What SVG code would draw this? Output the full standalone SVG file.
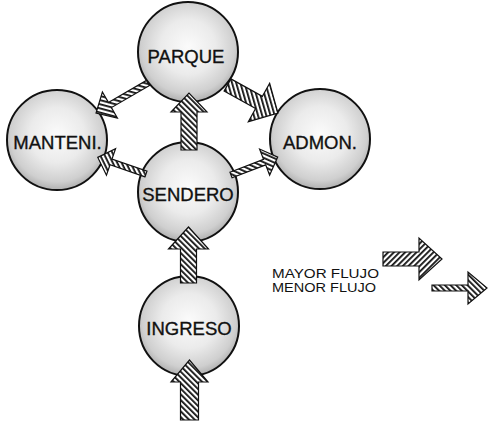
<svg xmlns="http://www.w3.org/2000/svg" width="497" height="425" viewBox="0 0 497 425">
  <style>
    .node circle { fill: url(#sphere); stroke: #111; stroke-width: 2; }
    .node text { font-family: "Liberation Sans", Arial, sans-serif; font-size: 18.5px; fill: #111; stroke: #111; stroke-width: 0.35; text-anchor: middle; }
    .arrow { stroke: #111; stroke-width: 1.2; stroke-linejoin: miter; }
    .hb { fill: url(#hatchB); }
    .hf { fill: url(#hatchF); }
    .legend { font-family: "Liberation Sans", Arial, sans-serif; font-size: 13px; fill: #111; }
  </style>
  <defs>
    <radialGradient id="sphere" cx="50%" cy="45%" r="55%">
      <stop offset="0" stop-color="#fbfbfb"/>
      <stop offset="0.5" stop-color="#ebebeb"/>
      <stop offset="0.85" stop-color="#cfcfcf"/>
      <stop offset="1" stop-color="#b0b0b0"/>
    </radialGradient>
    <pattern id="hatchB" patternUnits="userSpaceOnUse" width="4" height="4" patternTransform="rotate(-45)">
      <rect width="4" height="4" fill="#fff"/>
      <rect x="0" y="0" width="1.8" height="4" fill="#111"/>
    </pattern>
    <pattern id="hatchF" patternUnits="userSpaceOnUse" width="4" height="4" patternTransform="rotate(45)">
      <rect width="4" height="4" fill="#fff"/>
      <rect x="0" y="0" width="1.8" height="4" fill="#111"/>
    </pattern>
  </defs>
  <rect width="497" height="425" fill="#fff"/>

  <g id="parque" class="node">
    <circle cx="188" cy="52" r="50"/>
    <text x="186" y="63">PARQUE</text>
  </g>
  <g id="manteni" class="node">
    <circle cx="57" cy="140" r="50"/>
    <text x="57.5" y="149">MANTENI.</text>
  </g>
  <g id="admon" class="node">
    <circle cx="320" cy="139" r="50"/>
    <text x="320" y="149">ADMON.</text>
  </g>
  <g id="sendero" class="node">
    <circle cx="188" cy="192" r="50"/>
    <text x="188" y="200.5">SENDERO</text>
  </g>
  <g id="ingreso" class="node">
    <circle cx="189" cy="326" r="50"/>
    <text x="189" y="335">INGRESO</text>
  </g>

  <g id="connectors">
    <!-- SENDERO -> PARQUE -->
    <polygon class="arrow hb" points="181,150 181,112 171,112 189,93 207,112 197,112 197,150"/>
    <!-- INGRESO -> SENDERO -->
    <polygon class="arrow hb" points="180.5,283 180.5,249 168.5,249 188.5,227 208.5,249 196.5,249 196.5,283"/>
    <!-- entrance -> INGRESO -->
    <polygon class="arrow hb" points="180.5,420 180.5,382 171,382 189.5,360 208,382 198.5,382 198.5,420"/>
    <!-- PARQUE -> ADMON -->
    <polygon class="arrow hb" transform="translate(227.5,85) rotate(29)" points="0,-7 36,-7 36,-22 57.7,0 36,22 36,7 0,7"/>
    <!-- PARQUE -> MANTENI -->
    <polygon class="arrow hb" transform="translate(148,83) rotate(150)" points="0,-3 44,-3 44,-15 60,0 44,15 44,3 0,3"/>
    <!-- SENDERO -> MANTENI -->
    <polygon class="arrow hb" transform="translate(146,174) rotate(199)" points="0,-3 37,-3 37,-14 51,0 37,14 37,3 0,3"/>
    <!-- SENDERO -> ADMON -->
    <polygon class="arrow hb" transform="translate(231,175) rotate(-21)" points="0,-3 36,-3 36,-14 50,0 36,14 36,3 0,3"/>
  </g>

  <g id="legend">
    <text class="legend" x="272" y="277.5" textLength="107" lengthAdjust="spacingAndGlyphs">MAYOR FLUJO</text>
    <text class="legend" x="272" y="292" textLength="104" lengthAdjust="spacingAndGlyphs">MENOR FLUJO</text>
    <polygon class="arrow hf" points="383,252 419,252 419,238 442,259 419,280 419,266 383,266"/>
    <polygon class="arrow hb" points="432,285 468,285 468,272 487,288 468,304 468,291 432,291"/>
  </g>
</svg>
